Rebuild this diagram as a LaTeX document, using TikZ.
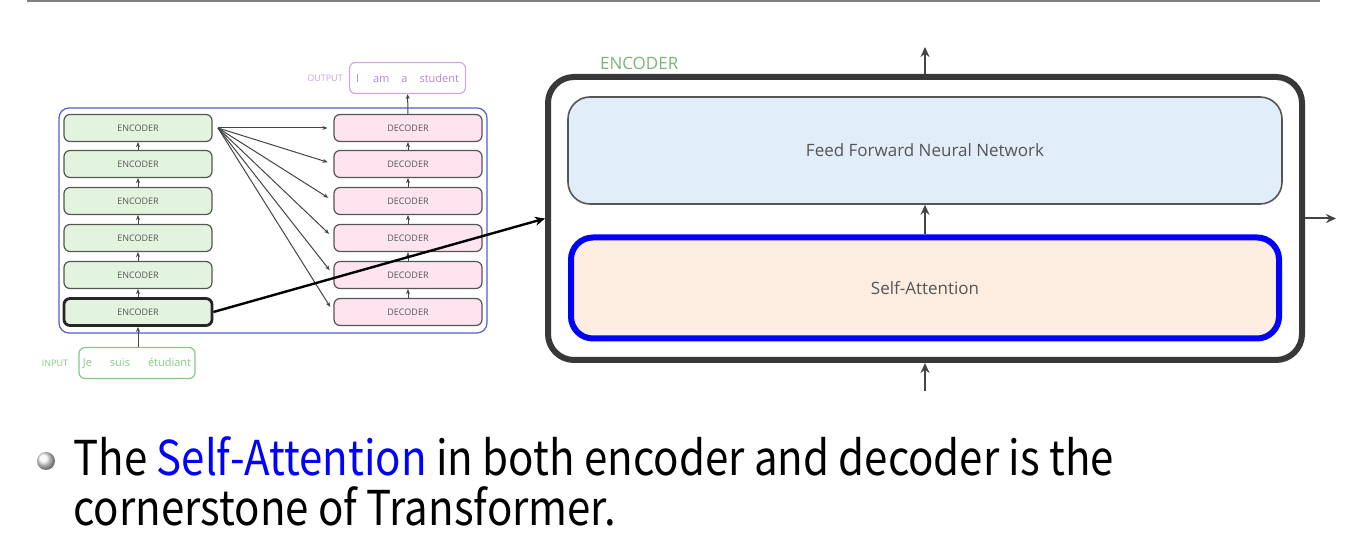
\documentclass[tikz,border=0pt]{standalone}
\usepackage{fontspec}
\setmainfont{Open Sans}
\newfontfamily\notefont{Noto Sans CJK KR}
\usetikzlibrary{arrows.meta}
\definecolor{encfill}{HTML}{E3F4DE}
\definecolor{decfill}{HTML}{FDE4EF}
\definecolor{ffnfill}{HTML}{E2EDFA}
\definecolor{safill}{HTML}{FDEDE0}
\definecolor{boxline}{HTML}{555555}
\definecolor{stackline}{HTML}{5060C8}
\definecolor{ingreen}{HTML}{86C886}
\definecolor{outpurple}{HTML}{B885CC}
\definecolor{arrowgray}{HTML}{444444}
\begin{document}
\begin{tikzpicture}
        [x=0.5pt, y=-0.5pt,
        enc/.style={rectangle, rounded corners=3pt, draw=boxline, fill=encfill, line width=0.6pt, minimum width=74pt, minimum height=13.5pt, inner sep=0pt, font=\fontsize{4.5}{5}\selectfont, text=boxline},
        dec/.style={enc, fill=decfill},
        word/.style={rectangle, rounded corners=3pt, draw, line width=0.6pt, minimum width=58pt, minimum height=15.5pt, inner sep=0pt, font=\fontsize{5.5}{6}\selectfont},
        tag/.style={font=\fontsize{4.5}{5}\selectfont},
        small/.style={draw=arrowgray, line width=0.5pt, -{Stealth[length=2.5pt, width=2pt]}},
        big/.style={draw=arrowgray, line width=1pt, -{Stealth[length=5pt, width=4.5pt]}},
        note/.style={anchor=base west, inner sep=0pt, font=\notefont\fontsize{24}{28}\selectfont}]
        \useasboundingbox (0,0) rectangle (1360,550);
        \draw[gray, line width=1pt] (27,1) -- (1320,1);

        % small stack
        \draw[stackline, line width=0.6pt, rounded corners=5pt] (59,108) rectangle (487,333);
        \node[enc] (E1) at (138,128) {ENCODER};
        \node[enc] (E2) at (138,164) {ENCODER};
        \node[enc] (E3) at (138,201) {ENCODER};
        \node[enc] (E4) at (138,238) {ENCODER};
        \node[enc] (E5) at (138,275) {ENCODER};
        \node[enc, line width=1.4pt, draw=black!85] (E6) at (138,312) {ENCODER};
        \node[dec] (D1) at (408,128) {DECODER};
        \node[dec] (D2) at (408,164) {DECODER};
        \node[dec] (D3) at (408,201) {DECODER};
        \node[dec] (D4) at (408,238) {DECODER};
        \node[dec] (D5) at (408,275) {DECODER};
        \node[dec] (D6) at (408,312) {DECODER};
        \node[word, draw=outpurple!70, text=outpurple] (O) at (407.5,78) {I\hspace{7pt}am\hspace{6pt}a\hspace{6pt}student};
        \node[tag, text=outpurple!75] (OL) at (325,78) {OUTPUT};
        \node[word, draw=ingreen, text=ingreen] (I) at (137,363) {Je\hspace{9pt}suis\hspace{9pt}étudiant};
        \node[tag, text=ingreen] (IL) at (55,363) {INPUT};
        \coordinate (fan) at (218,128);

        \draw[small] (I.north -| E6) -- (E6.south);
        \draw[small] (E6) -- (E5);
        \draw[small] (E5) -- (E4);
        \draw[small] (E4) -- (E3);
        \draw[small] (E3) -- (E2);
        \draw[small] (E2) -- (E1);
        \draw[small] (D6) -- (D5);
        \draw[small] (D5) -- (D4);
        \draw[small] (D4) -- (D3);
        \draw[small] (D3) -- (D2);
        \draw[small] (D2) -- (D1);
        \draw[small] (D1) -- (O);
        \draw[small, shorten >=3pt] (fan) -- (D1.west);
        \draw[small, shorten >=3pt] (fan) -- (D2.west);
        \draw[small, shorten >=3pt] (fan) -- (D3.west);
        \draw[small, shorten >=3pt] (fan) -- (D4.west);
        \draw[small, shorten >=3pt] (fan) -- (D5.west);
        \draw[small, shorten >=3pt] (fan) -- (D6.west);

        % one encoder, opened up
        \node[rectangle, rounded corners=13pt, draw=black!78, line width=3pt, minimum width=377pt, minimum height=141.5pt] (EB) at (925,218.5) {};
        \node[rectangle, rounded corners=11pt, draw=boxline, fill=ffnfill, line width=0.8pt, minimum width=357pt, minimum height=53.5pt, font=\fontsize{8.5}{9}\selectfont, text=boxline] (FFN) at (925,150.5) {Feed Forward Neural Network};
        \node[rectangle, rounded corners=11pt, draw=blue, fill=safill, line width=3pt, minimum width=354pt, minimum height=50.5pt, font=\fontsize{8.5}{9}\selectfont, text=boxline] (SA) at (925,288) {Self-Attention};
        \node[font=\fontsize{8.5}{9}\selectfont, text=ingreen!90!black, anchor=west] (EL) at (593,63) {ENCODER};
        \coordinate (top) at (925,47);
        \coordinate (bottom) at (925,391);
        \coordinate (right) at (1336,218.5);

        \draw[big] (EB.north) -- (top);
        \draw[big] (bottom) -- (EB.south);
        \draw[big] (EB.east) -- (right);
        \draw[big] (SA.north) -- (FFN.south);
        \draw[black, line width=1.2pt, -{Stealth[length=5pt, width=4.5pt]}] (E6.east) -- (EB.west);

        % the note under it
        \shade[ball color=gray!8] (46,461) circle (4.5pt);
        \node[note] (L1) at (73,475) {\scalebox{0.875}[1]{The \textcolor{blue}{Self-Attention} in both encoder and decoder is the}};
        \node[note] (L2) at (73,525) {\scalebox{0.875}[1]{cornerstone of Transformer.}};
    
    \end{tikzpicture}
\end{document}
